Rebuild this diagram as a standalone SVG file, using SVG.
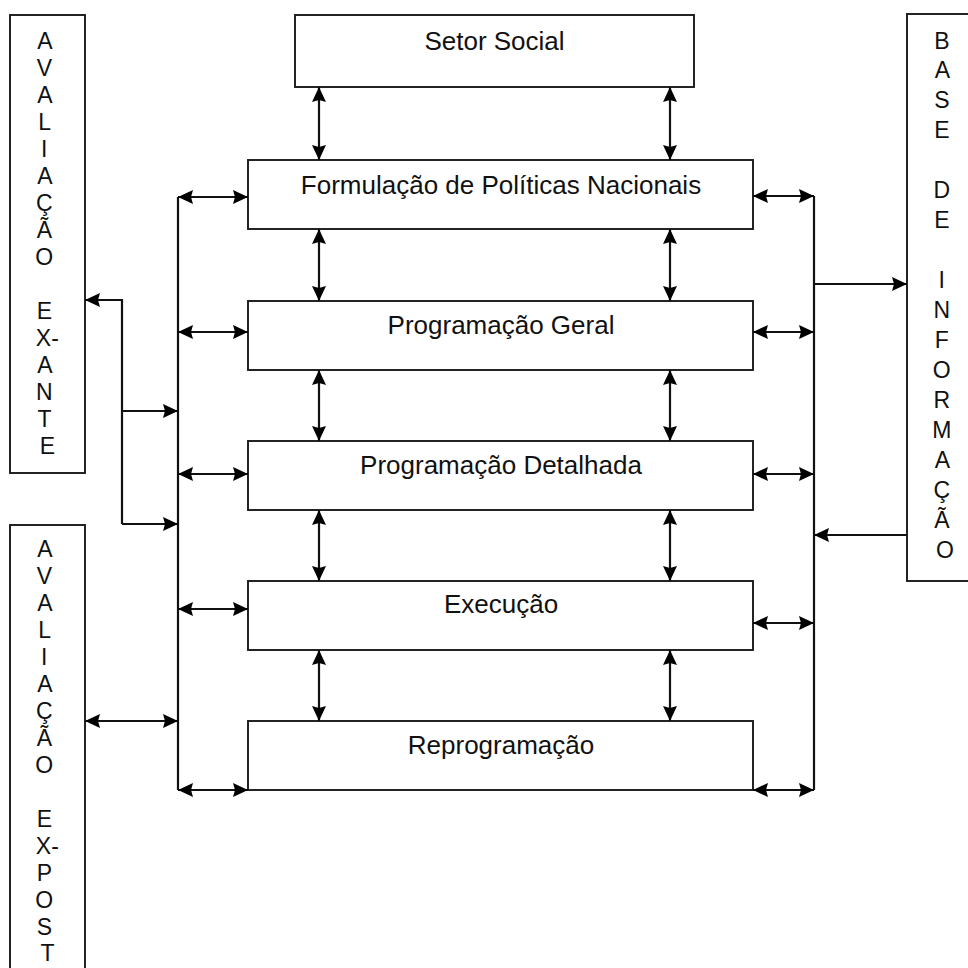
<svg xmlns="http://www.w3.org/2000/svg" width="968" height="968" viewBox="0 0 968 968">
  <style>
    .box { fill: #ffffff; stroke: #1a1a1a; stroke-width: 1.9; }
    .lbl { font-family: "Liberation Sans", Arial, sans-serif; font-size: 26px; fill: #111; text-anchor: middle; }
    .vert { font-family: "Liberation Sans", Arial, sans-serif; font-size: 23px; fill: #111; text-anchor: middle; }
    .wire { fill: none; stroke: #111; stroke-width: 2.2; }
    .one { marker-end: url(#head); }
    .two { marker-start: url(#head); marker-end: url(#head); }
  </style>
  <defs>
    <marker id="head" viewBox="0 0 15 14" refX="15" refY="7" markerWidth="15" markerHeight="14" markerUnits="userSpaceOnUse" orient="auto-start-reverse">
      <path d="M0,0 L15,7 L0,14 L2,7 z" fill="#000"/>
    </marker>
  </defs>
  <rect width="968" height="968" fill="#ffffff"/>

  <!-- Central chain of planning stages -->
  <g id="setor-social">
    <rect class="box" x="295" y="15" width="399" height="72"/>
    <text class="lbl" x="494.5" y="50">Setor Social</text>
  </g>
  <g id="formulacao">
    <rect class="box" x="248" y="160" width="505" height="69"/>
    <text class="lbl" x="501" y="194">Formulação de Políticas Nacionais</text>
  </g>
  <g id="programacao-geral">
    <rect class="box" x="248" y="301" width="505" height="69"/>
    <text class="lbl" x="501" y="334">Programação Geral</text>
  </g>
  <g id="programacao-detalhada">
    <rect class="box" x="248" y="441" width="505" height="69"/>
    <text class="lbl" x="501" y="474">Programação Detalhada</text>
  </g>
  <g id="execucao">
    <rect class="box" x="248" y="581" width="505" height="69"/>
    <text class="lbl" x="501" y="613">Execução</text>
  </g>
  <g id="reprogramacao">
    <rect class="box" x="248" y="721" width="505" height="69"/>
    <text class="lbl" x="501" y="754">Reprogramação</text>
  </g>

  <!-- Side columns with stacked letters -->
  <g id="avaliacao-ex-ante">
    <rect class="box" x="10" y="15" width="75" height="458"/>
    <text class="vert">
      <tspan x="47.5" y="49">A</tspan>
      <tspan x="47.5" y="76">V</tspan>
      <tspan x="47.5" y="103">A</tspan>
      <tspan x="47.5" y="130">L</tspan>
      <tspan x="47.5" y="157">I</tspan>
      <tspan x="47.5" y="184">A</tspan>
      <tspan x="47.5" y="211">Ç</tspan>
      <tspan x="47.5" y="238">Ã</tspan>
      <tspan x="47.5" y="265">O</tspan>
      <tspan x="47.5" y="319">E</tspan>
      <tspan x="50.5" y="346">X-</tspan>
      <tspan x="47.5" y="373">A</tspan>
      <tspan x="47.5" y="400">N</tspan>
      <tspan x="47.5" y="427">T</tspan>
      <tspan x="47.5" y="454">E</tspan>
    </text>
  </g>
  <g id="avaliacao-ex-post">
    <rect class="box" x="10" y="525" width="75" height="460"/>
    <text class="vert">
      <tspan x="47.5" y="557">A</tspan>
      <tspan x="47.5" y="584">V</tspan>
      <tspan x="47.5" y="611">A</tspan>
      <tspan x="47.5" y="638">L</tspan>
      <tspan x="47.5" y="665">I</tspan>
      <tspan x="47.5" y="692">A</tspan>
      <tspan x="47.5" y="719">Ç</tspan>
      <tspan x="47.5" y="746">Ã</tspan>
      <tspan x="47.5" y="773">O</tspan>
      <tspan x="47.5" y="827">E</tspan>
      <tspan x="50.5" y="854">X-</tspan>
      <tspan x="47.5" y="881">P</tspan>
      <tspan x="47.5" y="908">O</tspan>
      <tspan x="47.5" y="935">S</tspan>
      <tspan x="47.5" y="961">T</tspan>
    </text>
  </g>
  <g id="base-de-informacao">
    <rect class="box" x="907" y="14" width="80" height="567"/>
    <text class="vert">
      <tspan x="945" y="49">B</tspan>
      <tspan x="945" y="78">A</tspan>
      <tspan x="945" y="108">S</tspan>
      <tspan x="945" y="138">E</tspan>
      <tspan x="945" y="198">D</tspan>
      <tspan x="945" y="228">E</tspan>
      <tspan x="945" y="288">I</tspan>
      <tspan x="945" y="318">N</tspan>
      <tspan x="945" y="348">F</tspan>
      <tspan x="945" y="378">O</tspan>
      <tspan x="945" y="408">R</tspan>
      <tspan x="945" y="438">M</tspan>
      <tspan x="945" y="468">A</tspan>
      <tspan x="945" y="498">Ç</tspan>
      <tspan x="945" y="528">Ã</tspan>
      <tspan x="945" y="558">O</tspan>
    </text>
  </g>

  <!-- Connectors -->
  <g id="connectors">
    <!-- vertical links between stages -->
    <line class="wire two" x1="319" y1="87" x2="319" y2="160"/>
    <line class="wire two" x1="670" y1="87" x2="670" y2="160"/>
    <line class="wire two" x1="319" y1="229" x2="319" y2="301"/>
    <line class="wire two" x1="670" y1="229" x2="670" y2="301"/>
    <line class="wire two" x1="319" y1="370" x2="319" y2="441"/>
    <line class="wire two" x1="670" y1="370" x2="670" y2="441"/>
    <line class="wire two" x1="319" y1="510" x2="319" y2="581"/>
    <line class="wire two" x1="670" y1="510" x2="670" y2="581"/>
    <line class="wire two" x1="319" y1="650" x2="319" y2="721"/>
    <line class="wire two" x1="670" y1="650" x2="670" y2="721"/>

    <!-- left bus -->
    <line class="wire" x1="178" y1="197" x2="178" y2="790"/>
    <line class="wire two" x1="178" y1="197" x2="248" y2="197"/>
    <line class="wire two" x1="178" y1="332" x2="248" y2="332"/>
    <line class="wire two" x1="178" y1="474" x2="248" y2="474"/>
    <line class="wire two" x1="178" y1="609" x2="248" y2="609"/>
    <line class="wire two" x1="178" y1="790" x2="248" y2="790"/>

    <!-- right bus -->
    <line class="wire" x1="814" y1="196" x2="814" y2="790"/>
    <line class="wire two" x1="753" y1="196" x2="814" y2="196"/>
    <line class="wire two" x1="753" y1="332" x2="814" y2="332"/>
    <line class="wire two" x1="753" y1="474" x2="814" y2="474"/>
    <line class="wire two" x1="753" y1="623" x2="814" y2="623"/>
    <line class="wire two" x1="753" y1="790" x2="814" y2="790"/>

    <!-- information base exchange -->
    <line class="wire one" x1="814" y1="284" x2="907" y2="284"/>
    <line class="wire one" x1="907" y1="535" x2="814" y2="535"/>

    <!-- ex-ante loop -->
    <polyline class="wire one" points="122,524 122,300 85,300"/>
    <line class="wire one" x1="122" y1="411" x2="178" y2="411"/>
    <line class="wire one" x1="122" y1="524" x2="178" y2="524"/>

    <!-- ex-post link -->
    <line class="wire two" x1="85" y1="721" x2="178" y2="721"/>
  </g>
</svg>
